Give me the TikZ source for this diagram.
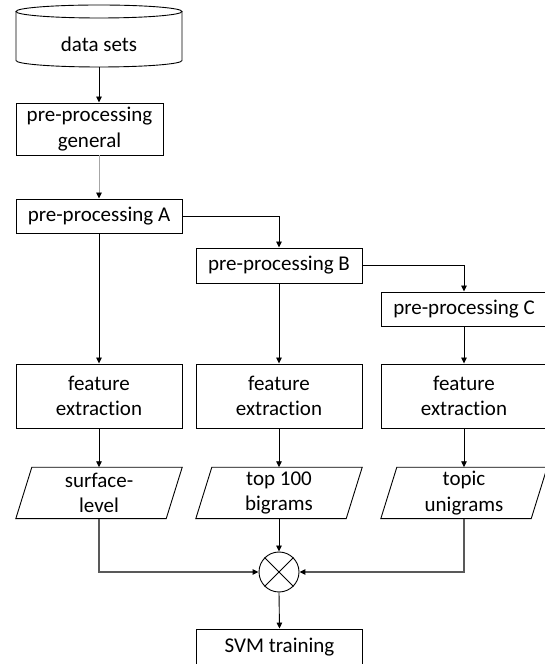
\documentclass[tikz,border=0pt]{standalone}
\usepackage{fontspec}
\setmainfont{Carlito}[Ligatures=NoCommon]
\usetikzlibrary{arrows.meta}
\definecolor{lgray}{HTML}{A6A6A6}
\definecolor{dgray}{HTML}{595959}
\tikzset{
  txt/.style={inner sep=0pt, align=center, font=\fontsize{21}{25.7}\selectfont},
  box/.style={txt, draw, line width=0.9pt, minimum width=166pt},
  hold/.style={txt, minimum width=166pt},
  arr/.style={-{Triangle[length=6pt,width=5.5pt,color=black]}, line width=0.9pt},
  arrlg/.style={arr, draw=lgray},
  arrdg/.style={arr, draw=dgray, line width=1.4pt},
  shp/.style={line width=0.9pt}
}
\newcommand{\paradraw}[1]{\draw[shp] (#1.south west) -- ([xshift=16pt]#1.north west) -- (#1.north east) -- ([xshift=-16pt]#1.south east) -- cycle;}
\begin{document}
\begin{tikzpicture}[x=1pt,y=1pt]
\useasboundingbox (0,0) rectangle (544,664);
% data sets cylinder
\node[hold, minimum height=62pt] (ds) at (99,628) {};
\draw[shp] (99,652.5) ellipse [x radius=83pt, y radius=6.5pt];
\draw[shp] (16,652.5) -- (16,603.5) arc[start angle=180, end angle=360, x radius=83pt, y radius=6.5pt] -- (182,652.5);
\node[txt] (dst) at (99,619.5) {data sets};
% boxes
\node[box, minimum width=147pt, minimum height=52pt] (gen) at (89.5,535) {pre-processing\\general};
\node[box, minimum height=34pt] (A) at (99,448) {pre-processing A};
\node[box, minimum height=35pt] (B) at (279,398.5) {pre-processing B};
\node[box, minimum height=34pt] (C) at (464,355) {pre-processing C};
\node[box, minimum height=64pt] (f1) at (99,268) {feature\\extraction};
\node[box, minimum height=64pt] (f2) at (279,268) {feature\\extraction};
\node[box, minimum height=64pt] (f3) at (464,268) {feature\\extraction};
\node[hold, minimum height=51pt] (p1) at (99,171) {surface-\\level};
\node[hold, minimum height=51pt] (p2) at (279,171) {top 100\\bigrams};
\node[hold, minimum height=51pt] (p3) at (464,171) {topic\\unigrams};
\paradraw{p1}
\paradraw{p2}
\paradraw{p3}
\node[draw, circle, line width=0.9pt, minimum size=40pt, inner sep=0pt] (x) at (279,92) {};
\draw[shp] (x.north west) -- (x.south east);
\draw[shp] (x.north east) -- (x.south west);
\node[box, minimum height=36pt] (svm) at (279.5,17) {SVM training};
% connectors
\draw[arr] (ds.south) -- (ds.south |- gen.north);
\draw[arrlg] (A.north |- gen.south) -- (A.north);
\draw[arr] (A.east) -| (B.north);
\draw[arr] (B.east) -| (C.north);
\draw[arr] (A.south) -- (f1.north);
\draw[arr] (B.south) -- (f2.north);
\draw[arr] (C.south) -- (f3.north);
\draw[arr] (f1.south) -- (p1.north);
\draw[arr] (f2.south) -- (p2.north);
\draw[arr] (f3.south) -- (p3.north);
\draw[arrdg] (p1.south) |- (x.west);
\draw[arr] (p2.south) -- (x.north);
\draw[arrdg] (p3.south) |- (x.east);
\draw[arr] (x.south) -- (svm.north);
\end{tikzpicture}
\end{document}
